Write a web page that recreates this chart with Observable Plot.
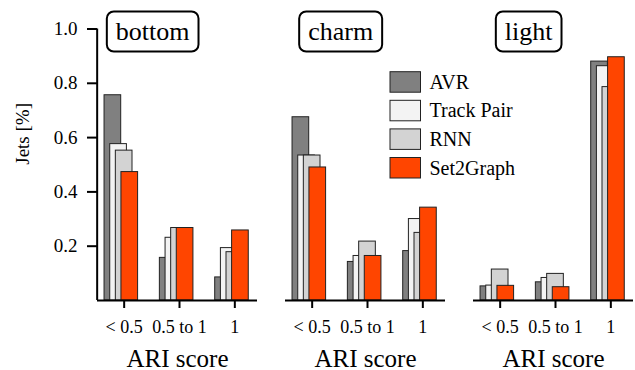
<!DOCTYPE html>
<html>
<head>
<meta charset="utf-8">
<script src="https://cdn.jsdelivr.net/npm/d3@7"></script>
<script src="https://cdn.jsdelivr.net/npm/@observablehq/plot@0.6"></script>
<style>
  html, body { margin: 0; padding: 0; background: white; }
  #chart svg, #chart svg text { font-family: "Times New Roman", serif !important; }
</style>
</head>
<body>
<div id="chart"></div>
<script>
// ---- data ----
const flavours = ["bottom", "charm", "light"];
const categories = ["< 0.5", "0.5 to 1", "1"];
const methods = ["AVR", "Track Pair", "RNN", "Set2Graph"];
const colors = ["#808080", "#f3f3f3", "#d3d3d3", "#ff4500"];
const yTicks = [0.2, 0.4, 0.6, 0.8, 1.0];
const xLabel = "ARI score";
const yLabel = "Jets [%]";
// values per method: bottom(<0.5, 0.5 to 1, 1), charm(...), light(...)
const avr       = [0.756, 0.157, 0.085, 0.675, 0.142, 0.182, 0.052, 0.067, 0.880];
const trackPair = [0.576, 0.231, 0.193, 0.534, 0.164, 0.300, 0.055, 0.083, 0.863];
const rnn       = [0.552, 0.267, 0.178, 0.534, 0.217, 0.249, 0.114, 0.098, 0.786];
const set2graph = [0.473, 0.267, 0.258, 0.490, 0.164, 0.342, 0.054, 0.049, 0.896];
const seriesValues = [avr, trackPair, rnn, set2graph];

const rows = [];
methods.forEach((m, k) => {
  flavours.forEach((f, fi) => {
    categories.forEach((c, ci) => {
      rows.push({method: m, flavour: f, category: c, value: seriesValues[k][fi * 3 + ci]});
    });
  });
});

// ---- layout ----
const bw = (161 + 6) / 3;      // band width inside a facet
const barW = 17;
const offsets = [-11.3, -5.6, 0, 5.6];
const labelFont = 26;
// approximate Times advance widths (em) to size the facet-label boxes without measuring
const em = {b: .5, o: .5, t: .278, m: .778, c: .444, h: .5, a: .444, r: .333, l: .278, i: .278, g: .5};
const textWidth = s => [...s].reduce((w, ch) => w + (em[ch] ?? .5), 0) * labelFont;

const barMarks = methods.map((m, k) => Plot.barY(rows.filter(r => r.method === m), {
  fx: "flavour", x: "category", y: "value", fill: "method",
  stroke: "#222", strokeWidth: 1,
  insetLeft: bw / 2 + offsets[k] - barW / 2,
  insetRight: bw / 2 - offsets[k] - barW / 2
}));

const chart = Plot.plot({
  width: 635,
  height: 370,
  marginLeft: 96,
  marginRight: 0,
  marginTop: 28.5,
  marginBottom: 70,
  style: {fontFamily: "Times New Roman, serif", fontSize: "18px", background: "white", color: "black"},
  fx: {domain: flavours, paddingInner: 0.148, paddingOuter: 0, axis: null},
  x: {domain: categories, paddingInner: 0, paddingOuter: 0, insetLeft: -1, insetRight: -5, round: false},
  y: {domain: [0, 1]},
  color: {domain: methods, range: colors},
  marks: [
    ...barMarks,
    Plot.ruleY([0], {strokeWidth: 2}),
    Plot.ruleX(["bottom"], {fx: d => d, x: () => categories[0], dx: -27, y1: () => 0, y2: () => 1, strokeWidth: 2}),
    Plot.axisY({ticks: yTicks, tickFormat: d3.format(".1f"), tickSize: 10, tickPadding: 10, strokeWidth: 2, fontSize: 19, label: null}),
    Plot.axisX({tickSize: 8, tickPadding: 12, strokeWidth: 2, fontSize: 18, label: null}),
    Plot.text(flavours, {fx: d => d, frameAnchor: "bottom", text: () => xLabel, dy: 58, fontSize: 25, lineAnchor: "middle"}),
    Plot.text(["bottom"], {fx: d => d, frameAnchor: "left", text: () => yLabel, rotate: -90, dx: -75, fontSize: 19, lineAnchor: "middle"}),
    Plot.text(flavours, {fx: d => d, x: () => categories[0], y: () => 1, text: d => d, dx: 28.5, dy: 2.5, fontSize: labelFont, lineAnchor: "middle"})
  ]
});

// ---- facet label boxes (no layout measurement) ----
const svg = d3.select(chart);
svg.selectAll("text").filter(function() { return flavours.includes(this.textContent); }).each(function() {
  const w = textWidth(this.textContent) + 18;
  const tx = this.getAttribute("x"), ty = this.getAttribute("y");
  const r = d3.select(this.parentNode).insert("rect", () => this)
    .attr("width", w).attr("height", 40)
    .attr("rx", 7).attr("ry", 7)
    .attr("fill", "white").attr("stroke", "black").attr("stroke-width", 2);
  if (tx !== null) {
    r.attr("x", +tx - w / 2).attr("y", +ty - 20);
  } else {
    r.attr("transform", this.getAttribute("transform")).attr("x", -w / 2).attr("y", -20);
  }
});

// ---- legend ----
const lg = svg.append("g").attr("font-size", 20).attr("text-anchor", "start");
methods.forEach((m, k) => {
  const y0 = 71.7 + k * 28.6;
  lg.append("rect").attr("x", 390).attr("y", y0).attr("width", 30.5).attr("height", 20.5)
    .attr("fill", colors[k]).attr("stroke", "#222").attr("stroke-width", 1);
  lg.append("text").attr("x", 429.5).attr("y", y0 + 10.25).attr("dy", "0.34em")
    .attr("text-anchor", "start").attr("fill", "black").text(m);
});

document.getElementById("chart").append(chart);
</script>
</body>
</html>
